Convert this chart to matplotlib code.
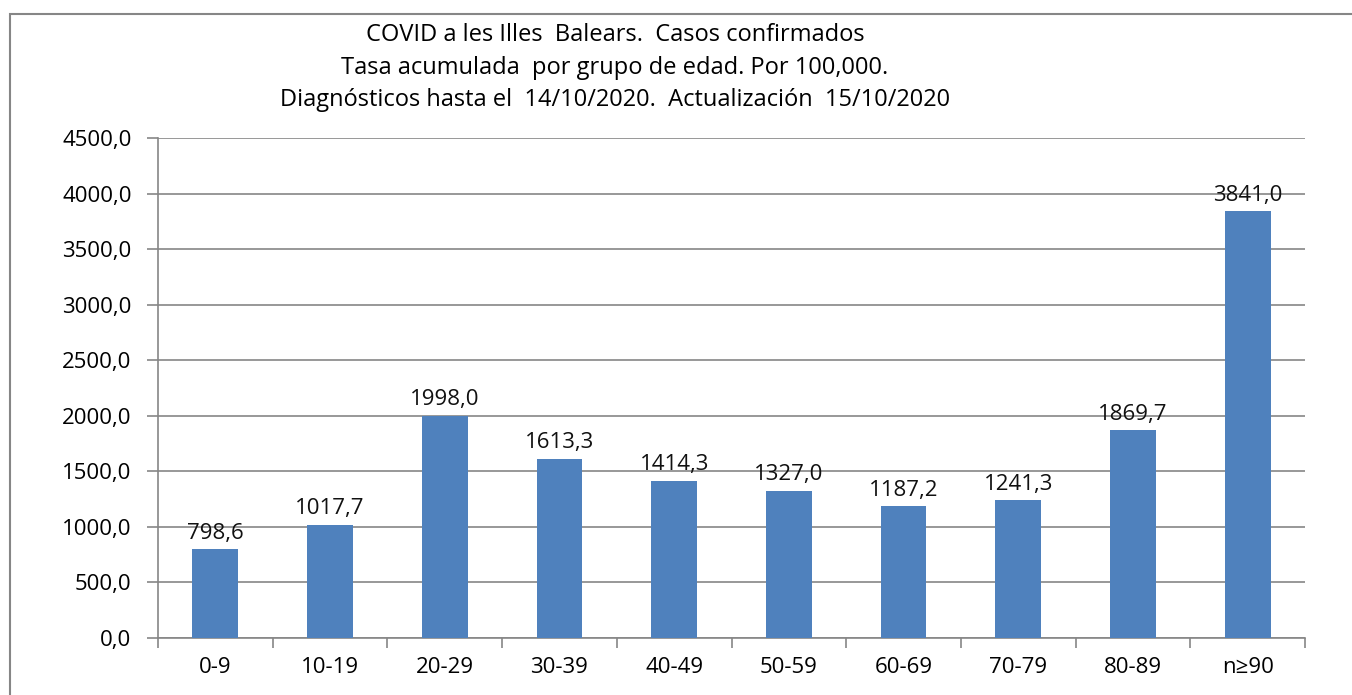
import matplotlib.pyplot as plt
from matplotlib.patches import Rectangle

grupos = ['0-9', '10-19', '20-29', '30-39', '40-49', '50-59', '60-69', '70-79', '80-89', 'n≥90']
tasa = [798.6, 1017.7, 1998.0, 1613.3, 1414.3, 1327.0, 1187.2, 1241.3, 1869.7, 3841.0]
titulo = ['COVID a les Illes  Balears.  Casos confirmados',
          'Tasa acumulada  por grupo de edad. Por 100,000.',
          'Diagnósticos hasta el  14/10/2020.  Actualización  15/10/2020']

plt.rcParams['font.family'] = ['Open Sans', 'DejaVu Sans']
gris = '#868686'
fs = 16

fig = plt.figure(figsize=(13.52, 6.95), dpi=100)
W, H = 1352, 695
ax = fig.add_axes([158 / W, 1 - 638 / H, (1305 - 158) / W, (638 - 138) / H])

x = range(len(grupos))
ax.bar(x, tasa, width=0.4, color='#4F81BD', zorder=3)
for i, v in zip(x, tasa):
    ax.text(i, v + 50, f'{v:.1f}'.replace('.', ','), ha='center', va='bottom', fontsize=fs, color='#111111')

ax.set_xlim(-0.5, len(grupos) - 0.5)
ax.set_ylim(0, 4500)
ax.set_yticks(range(0, 4501, 500))
ax.set_yticklabels([f'{t},0' for t in range(0, 4501, 500)], fontsize=fs)
ax.yaxis.grid(True, color=gris, linewidth=1.2, zorder=0)
ax.set_xticks(list(x))
ax.set_xticklabels(grupos, fontsize=fs)
ax.set_xticks([i + 0.5 for i in range(-1, len(grupos))], minor=True)
ax.tick_params(axis='x', which='major', length=0, pad=14)
ax.tick_params(axis='x', which='minor', length=7, color=gris, width=1.2, direction='out')
ax.tick_params(axis='y', length=8, color=gris, width=1.2, pad=11)
for s in ['top', 'right']:
    ax.spines[s].set_visible(False)
for s in ['left', 'bottom']:
    ax.spines[s].set_color(gris)
    ax.spines[s].set_linewidth(1.2)

for k, linea in enumerate(titulo):
    fig.text(615 / W, 1 - (35 + 32.5 * k) / H, linea, ha='center', va='center', fontsize=17)

fig.patches.append(Rectangle((10 / W, -0.1), 1.2, 1 - 14 / H + 0.1, transform=fig.transFigure,
                             fill=False, edgecolor=gris, linewidth=1.5))

fig.savefig('out.png', dpi=100)
